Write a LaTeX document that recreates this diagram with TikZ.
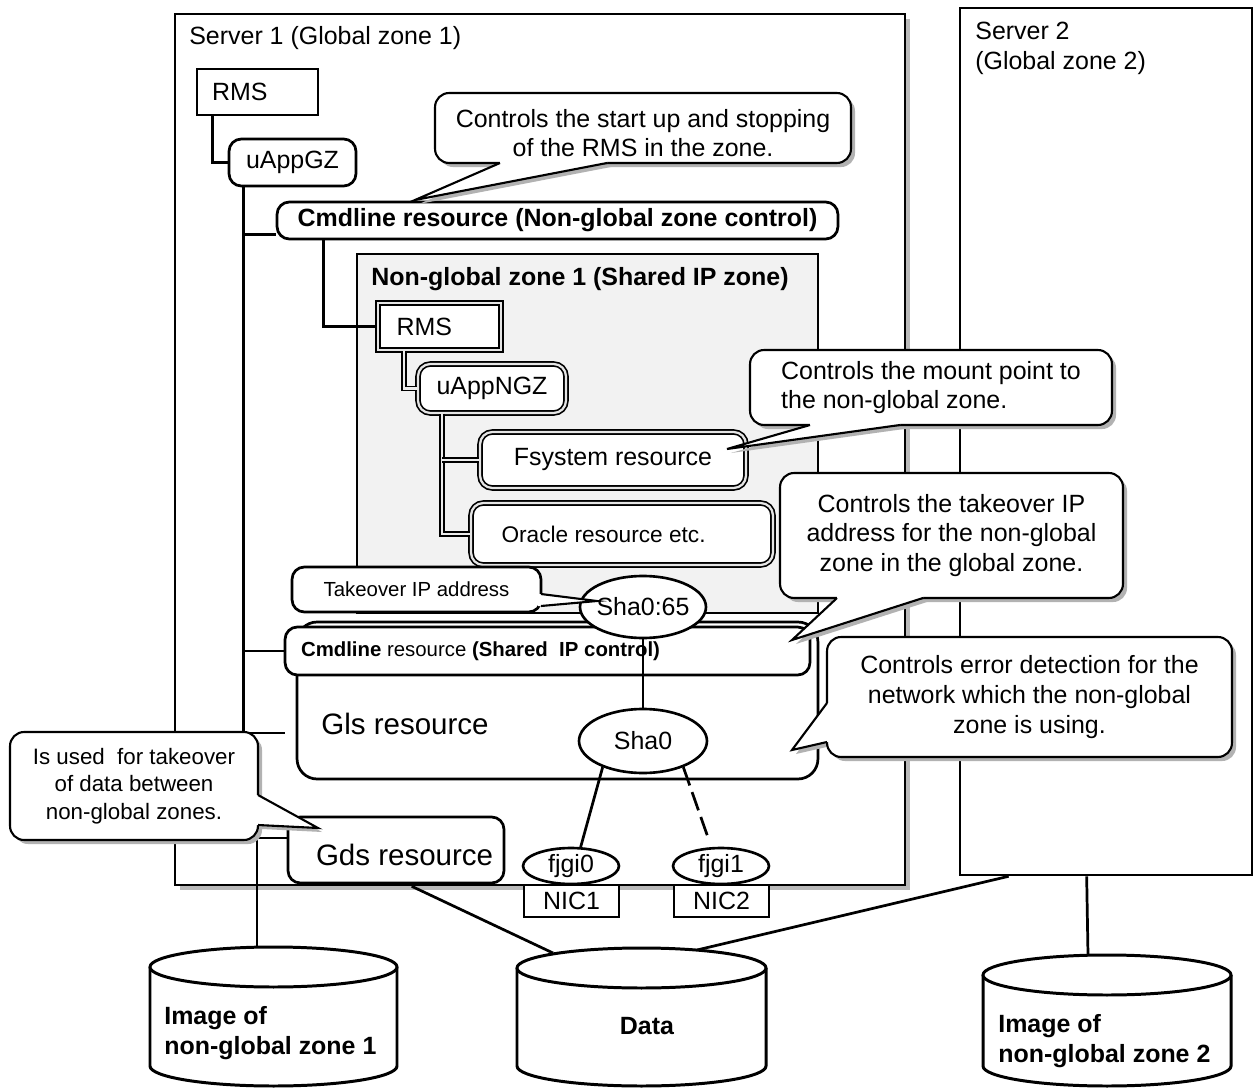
\documentclass[tikz,border=0pt]{standalone}
\usepackage{fontspec}
\setmainfont{Liberation Sans}
\usetikzlibrary{calc,shapes.geometric,shadows}
\newcommand{\fmain}{\fontsize{14.2}{17}\selectfont}
\newcommand{\fsm}{\fontsize{11.6}{14}\selectfont}
\newcommand{\fora}{\fontsize{12.9}{15}\selectfont}
\newcommand{\fbig}{\fontsize{16.8}{20}\selectfont}
\newcommand{\fcv}{\fontsize{12.7}{15.6}\selectfont}
\newcommand{\ptrshadow}[3]{\fill[gray!60] ($(#1)+(4,4)$) -- ($(#2)+(4,4)$) -- ($(#3)+(4,4)$) -- cycle;}
\newcommand{\calloutptr}[4]{%
  \fill[white] ($(#1)+(#4)$) -- (#1) -- (#2) -- (#3) -- ($(#3)+(#4)$) -- cycle;
  \draw[line width=1.2pt, line join=miter] (#1) -- (#2) -- (#3);}
\tikzset{
  every node/.style={font=\fmain, inner sep=0pt, text=black},
  bx/.style={draw, line width=1.55pt, fill=white},
  rbx/.style={bx, rounded corners=7pt},
  dbx/.style={draw, line width=0.95pt, double=gray!20, double distance=1.3pt, fill=white, rounded corners=7pt},
  conn/.style={line width=1.55pt},
  dconn/.style={line width=0.9pt, double=gray!15, double distance=1.3pt},
  cbox/.style={draw, line width=1.2pt, fill=white, rounded corners=8pt, align=center,
    drop shadow={shadow xshift=2.3pt, shadow yshift=-2.3pt, fill=gray!60, opacity=1}},
  oval/.style={ellipse, draw, line width=1.5pt, fill=white},
  cyl/.style={draw, line width=1.7pt, fill=white},
}
\begin{document}
\begin{tikzpicture}[x=0.02cm, y=-0.02cm]
\useasboundingbox (0,0) rectangle (1255,1088);

% ---------------- servers
\node[bx, minimum width=14.6cm, minimum height=17.42cm,
  drop shadow={shadow xshift=3pt, shadow yshift=-3pt, fill=gray!55, opacity=1}] (server1) at (540,449.5) {};
\node[anchor=west] (s1label) at (189,38) {Server 1 (Global zone 1)};
\node[bx, minimum width=5.84cm, minimum height=17.34cm] (server2) at (1106,441.5) {};
\node[anchor=north west, align=left] (s2label) at (975,22) {Server 2\\(Global zone 2)};

% ---------------- lines to disks
\coordinate (c1top) at (257,947);
\coordinate (d1) at (553,953);
\coordinate (d2) at (697,950);
\coordinate (c3top) at (1088,955);
\draw[conn] ($(server1.south west)+(238,0)$) -- (d1);
\draw[conn] ($(server2.south west)+(50,0)$) -- (d2);
\draw[conn] ($(server2.south west)+(128,0)$) -- (c3top);

% ---------------- disks
\filldraw[cyl] (150,967) -- (150,1066) arc[start angle=180, end angle=0, x radius=123.5, y radius=20] -- (397,967);
\draw[cyl] (273.5,967) ellipse[x radius=123.5, y radius=20];
\node[anchor=west, align=left, font=\fmain\bfseries] (cyl1t) at (164,1033) {Image of\\non-global zone 1};

\filldraw[cyl] (517,968) -- (517,1066) arc[start angle=180, end angle=0, x radius=124.5, y radius=20] -- (766,968);
\draw[cyl] (641.5,968) ellipse[x radius=124.5, y radius=20];
\node[font=\fmain\bfseries] (datat) at (647,1026) {Data};

\filldraw[cyl] (983,975) -- (983,1066) arc[start angle=180, end angle=0, x radius=124, y radius=20] -- (1231,975);
\draw[cyl] (1107,975) ellipse[x radius=124, y radius=20];
\node[anchor=west, align=left, font=\fmain\bfseries] (cyl3t) at (998,1041) {Image of\\non-global zone 2};

% ---------------- global zone resources
\node[bx, minimum width=2.42cm, minimum height=0.92cm] (rms1) at (257.5,92) {};
\node[anchor=west] (rms1t) at ($(rms1.west)+(16,0)$) {RMS};
\node[rbx, minimum width=2.54cm, minimum height=0.94cm] (uappgz) at (292.5,162.5) {uAppGZ};
\draw[conn] ($(rms1.south west)+(17,0)$) |- (uappgz.west);

\node[rbx, minimum width=11.22cm, minimum height=0.74cm, font=\fmain\bfseries] (cmdngz) at (557.5,220.5) {Cmdline resource (Non-global zone control)};

\coordinate (gzT) at ($(uappgz.south west)+(16,0)$);
\coordinate (glsstub) at (285,733);
\coordinate (cmdngzB) at ($(cmdngz.south west)+(0,-6)$);
\draw[conn] (gzT) -- (gzT |- glsstub) -- (glsstub);
\draw[conn] (gzT |- cmdngzB) -- (cmdngzB);

% ---------------- non-global zone
\node[draw, line width=1.55pt, fill=gray!10, minimum width=9.22cm, minimum height=7.18cm] (ngz) at (587.5,433.5) {};
\node[anchor=west, font=\fmain\bfseries] (ngzlabel) at (371,279) {Non-global zone 1 (Shared IP zone)};
\node[dbx, sharp corners, minimum width=2.46cm, minimum height=0.94cm] (rms2) at (439.5,326.5) {};
\node[anchor=west] (rms2t) at ($(rms2.west)+(19,0)$) {RMS};
\node[dbx, minimum width=2.96cm, minimum height=0.98cm] (uappngz) at (492,388.5) {uAppNGZ};
\node[dbx, minimum width=5.32cm, minimum height=1.12cm] (fsys) at (613,460) {Fsystem resource};
\node[dbx, minimum width=6.04cm, minimum height=1.24cm] (oracle) at (622,534) {};
\node[anchor=west, font=\fora] (oraclet) at ($(oracle.west)+(31,0)$) {Oracle resource etc.};

\draw[conn] ($(cmdngz.south west)+(48,0)$) |- (rms2.west);
\draw[dconn] ($(rms2.south west)+(27,0)$) |- (uappngz.west);
\coordinate (ngT) at ($(uappngz.south west)+(25,0)$);
\draw[dconn] (ngT) |- (oracle.west);
\draw[dconn] (ngT |- fsys.west) -- (fsys.west);

% ---------------- Gls / Cmdline shared IP
\node[bx, rounded corners=0.4cm, minimum width=10.42cm, minimum height=3.14cm] (gls) at (557.5,700.5) {};
\node[anchor=west, font=\fbig] (glst) at (321,724) {Gls resource};
\node[rbx, minimum width=10.5cm, minimum height=0.96cm] (cmdsh) at (547.5,651) {};
\node[anchor=west, font=\fsm] (cmdsht) at ($(cmdsh.west)+(17,0)$) {\textbf{Cmdline} resource \textbf{(Shared\ \ IP control)}};
\draw[conn] (gzT |- cmdsh.west) -- (cmdsh.west);

\node[rbx, minimum width=4.98cm, minimum height=0.9cm, font=\fsm] (takeover) at (416.5,589.5) {Takeover IP address};
\node[oval, minimum width=2.52cm, minimum height=1.24cm, inner xsep=-1.5pt] (sha065) at (643,607) {Sha0:65};
\node[oval, minimum width=2.56cm, minimum height=1.28cm] (sha0) at (643,741) {Sha0};
\draw[conn] (sha065) -- (sha0);
\calloutptr{541,594}{597,601}{541,606}{-3,0}

% ---------------- NICs
\node[oval, minimum width=1.92cm, minimum height=0.72cm, text height=10pt, text depth=3pt] (fjgi0) at (571,866) {fjgi0};
\node[oval, minimum width=1.92cm, minimum height=0.72cm, text height=10pt, text depth=3pt] (fjgi1) at (721,866) {fjgi1};
\node[bx, line width=1.2pt, minimum width=1.9cm, minimum height=0.64cm] (nic1) at (571.5,901) {NIC1};
\node[bx, line width=1.2pt, minimum width=1.9cm, minimum height=0.64cm] (nic2) at (721.5,901) {NIC2};
\draw[conn] (sha0.213) -- (fjgi0.63);
\draw[conn, dash pattern=on 11pt off 4pt] (sha0.327) -- ($(sha0.327)!0.9!(fjgi1.117)$);

% ---------------- Gds
\node[rbx, minimum width=4.32cm, minimum height=1.32cm] (gds) at (396,850) {};
\node[anchor=west, font=\fbig] (gdst) at ($(gds.west)+(29,5)$) {Gds resource};
\coordinate (gdsL) at ($(gds.west)+(0,-12)$);
\draw[conn] (gdsL) -| (c1top);

% ---------------- callouts
\ptrshadow{500,163}{415,200}{607,163}
\node[cbox, minimum width=8.32cm, minimum height=1.4cm, text height=33pt] (c1) at (643,128) {Controls the start up and stopping\\of the RMS in the zone.};
\calloutptr{500,163}{415,200}{607,163}{0,-3}

\ptrshadow{810,425}{727,449}{900,425}
\node[cbox, align=left, minimum width=7.24cm, minimum height=1.5cm] (c2) at (931,387.5) {Controls the mount point to\\the non-global zone.};
\calloutptr{810,425}{727,449}{900,425}{0,-3}

\ptrshadow{837,598}{792,640}{923,598}
\node[cbox, minimum width=6.86cm, minimum height=2.5cm] (c3) at (951.5,535.5) {Controls the takeover IP\\address for the non-global\\zone in the global zone.};
\calloutptr{837,598}{792,640}{923,598}{0,-3}

\ptrshadow{827,703}{792,750}{827,742}
\node[cbox, minimum width=8.1cm, minimum height=2.4cm] (c4) at (1029.5,697) {Controls error detection for the\\network which the non-global\\zone is using.};
\calloutptr{827,703}{792,750}{827,742}{3,0}

\ptrshadow{258,795}{318,828}{258,825}
\node[cbox, font=\fcv, minimum width=4.96cm, minimum height=2.16cm] (c5) at (134,786) {Is used\ \ for takeover\\of data between\\non-global zones.};
\calloutptr{258,795}{318,828}{258,825}{-3,0}

\end{tikzpicture}
\end{document}
